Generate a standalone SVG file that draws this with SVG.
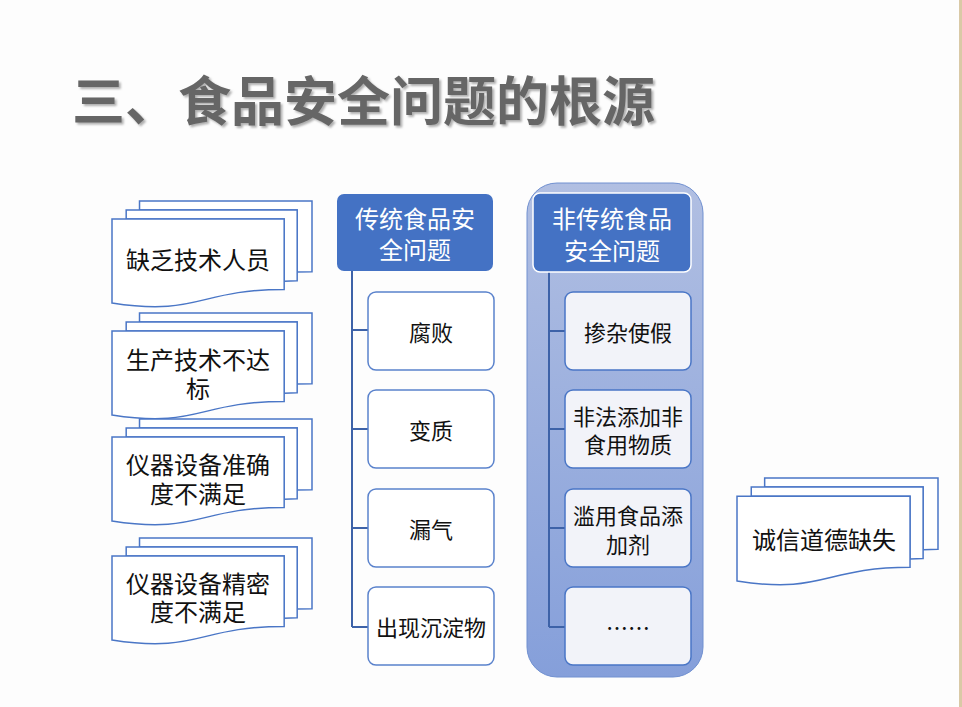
<svg xmlns="http://www.w3.org/2000/svg" xmlns:xlink="http://www.w3.org/1999/xlink" width="962" height="707" viewBox="0 0 962 707">
<style>
  .md { fill: #ffffff; stroke: #4a76c6; stroke-width: 1.5; }
  .t { font-family: "Noto Sans CJK SC", "Liberation Sans", sans-serif; text-anchor: middle; dominant-baseline: central; }
  .doc { font-size: 24px; fill: #111111; }
  .hdr { font-size: 24px; fill: #ffffff; }
  .kid { font-size: 22px; fill: #111111; }
  .box { fill: #ffffff; stroke: #5a82cc; stroke-width: 1.5; }
  .box2 { fill: #f2f3f9; stroke: #4a76c6; stroke-width: 1.5; }
  .conn { fill: none; stroke: #3d62a8; stroke-width: 2; }
</style>
<defs>
  <symbol id="multidoc" viewBox="0 0 21600 21600" preserveAspectRatio="none" overflow="visible">
    <path class="md" vector-effect="non-scaling-stroke" d="M2972,1815 L2972,0 L21600,0 L21600,14392 C20800,14392 20000,14467 20000,14467 L20000,1815 Z"/>
    <path class="md" vector-effect="non-scaling-stroke" d="M1532,3675 L1532,1815 L20000,1815 L20000,16252 C19298,16252 18595,16352 18595,16352 L18595,3675 Z"/>
    <path class="md" vector-effect="non-scaling-stroke" d="M0,3675 L18595,3675 L18595,18022 C9298,18022 9298,23542 0,20782 Z"/>
  </symbol>
  <linearGradient id="grpGrad" x1="0" y1="0" x2="0" y2="1">
    <stop offset="0" stop-color="#b1bfe2"/>
    <stop offset="1" stop-color="#859fda"/>
  </linearGradient>
  <filter id="shadow" x="-5%" y="-20%" width="110%" height="150%">
    <feDropShadow dx="2" dy="2" stdDeviation="0.8" flood-color="#9a9a9a" flood-opacity="0.8"/>
  </filter>
</defs>

<rect x="0" y="0" width="962" height="707" fill="#fdfdfd"/>
<rect x="959" y="0" width="3" height="707" fill="#d9c9a6"/>

<g id="title">
  <text x="72" y="121" font-family="'Noto Sans CJK SC', 'Liberation Sans', sans-serif" font-size="53" font-weight="bold" fill="#666666" filter="url(#shadow)">三、食品安全问题的根源</text>
</g>

<g id="doc1">
  <use xlink:href="#multidoc" x="112" y="201" width="200" height="106"/>
  <text class="t doc" x="198" y="258">缺乏技术人员</text>
</g>
<g id="doc2">
  <use xlink:href="#multidoc" x="112" y="313" width="200" height="106"/>
  <text class="t doc"><tspan x="198" y="358">生产技术不达</tspan><tspan x="198" y="387">标</tspan></text>
</g>
<g id="doc3">
  <use xlink:href="#multidoc" x="112" y="419" width="200" height="106"/>
  <text class="t doc"><tspan x="198" y="463">仪器设备准确</tspan><tspan x="198" y="492">度不满足</tspan></text>
</g>
<g id="doc4">
  <use xlink:href="#multidoc" x="112" y="538" width="200" height="106"/>
  <text class="t doc"><tspan x="198" y="582">仪器设备精密</tspan><tspan x="198" y="610">度不满足</tspan></text>
</g>
<g id="doc5">
  <use xlink:href="#multidoc" x="737" y="478" width="201" height="107"/>
  <text class="t doc" x="824" y="538">诚信道德缺失</text>
</g>

<g id="group-nontrad-bg">
  <rect x="527" y="183" width="176" height="494" rx="30" ry="30" fill="url(#grpGrad)" stroke="#7090d0" stroke-width="1"/>
</g>

<g id="connectors">
  <path class="conn" d="M352,271 V627 M352,330 H368 M352,429 H368 M352,528 H368 M352,627 H368"/>
  <path class="conn" d="M549,272 V627 M549,331 H565 M549,429 H565 M549,528 H565 M549,627 H565"/>
</g>

<g id="trad-header">
  <rect x="337" y="194" width="156" height="77" rx="7" ry="7" fill="#4472c4"/>
  <text class="t hdr"><tspan x="415" y="217">传统食品安</tspan><tspan x="415" y="248">全问题</tspan></text>
</g>
<g id="trad1">
  <rect class="box" x="368" y="292" width="126" height="78" rx="8" ry="8"/>
  <text class="t kid" x="431" y="331">腐败</text>
</g>
<g id="trad2">
  <rect class="box" x="368" y="390" width="126" height="78" rx="8" ry="8"/>
  <text class="t kid" x="431" y="429">变质</text>
</g>
<g id="trad3">
  <rect class="box" x="368" y="489" width="126" height="78" rx="8" ry="8"/>
  <text class="t kid" x="431" y="528">漏气</text>
</g>
<g id="trad4">
  <rect class="box" x="368" y="587" width="126" height="78" rx="8" ry="8"/>
  <text class="t kid" x="431" y="626">出现沉淀物</text>
</g>

<g id="nontrad-header">
  <rect x="533" y="193" width="158" height="79" rx="7" ry="7" fill="#4472c4" stroke="#ffffff" stroke-width="1.5"/>
  <text class="t hdr"><tspan x="612" y="217">非传统食品</tspan><tspan x="612" y="249">安全问题</tspan></text>
</g>
<g id="nontrad1">
  <rect class="box2" x="565" y="292" width="126" height="78" rx="8" ry="8"/>
  <text class="t kid" x="628" y="331">掺杂使假</text>
</g>
<g id="nontrad2">
  <rect class="box2" x="565" y="390" width="126" height="78" rx="8" ry="8"/>
  <text class="t kid"><tspan x="628" y="415">非法添加非</tspan><tspan x="628" y="443">食用物质</tspan></text>
</g>
<g id="nontrad3">
  <rect class="box2" x="565" y="489" width="126" height="78" rx="8" ry="8"/>
  <text class="t kid"><tspan x="628" y="514">滥用食品添</tspan><tspan x="628" y="543">加剂</tspan></text>
</g>
<g id="nontrad4">
  <rect class="box2" x="565" y="587" width="126" height="78" rx="8" ry="8"/>
  <text class="t kid" x="628" y="626">……</text>
</g>
</svg>
